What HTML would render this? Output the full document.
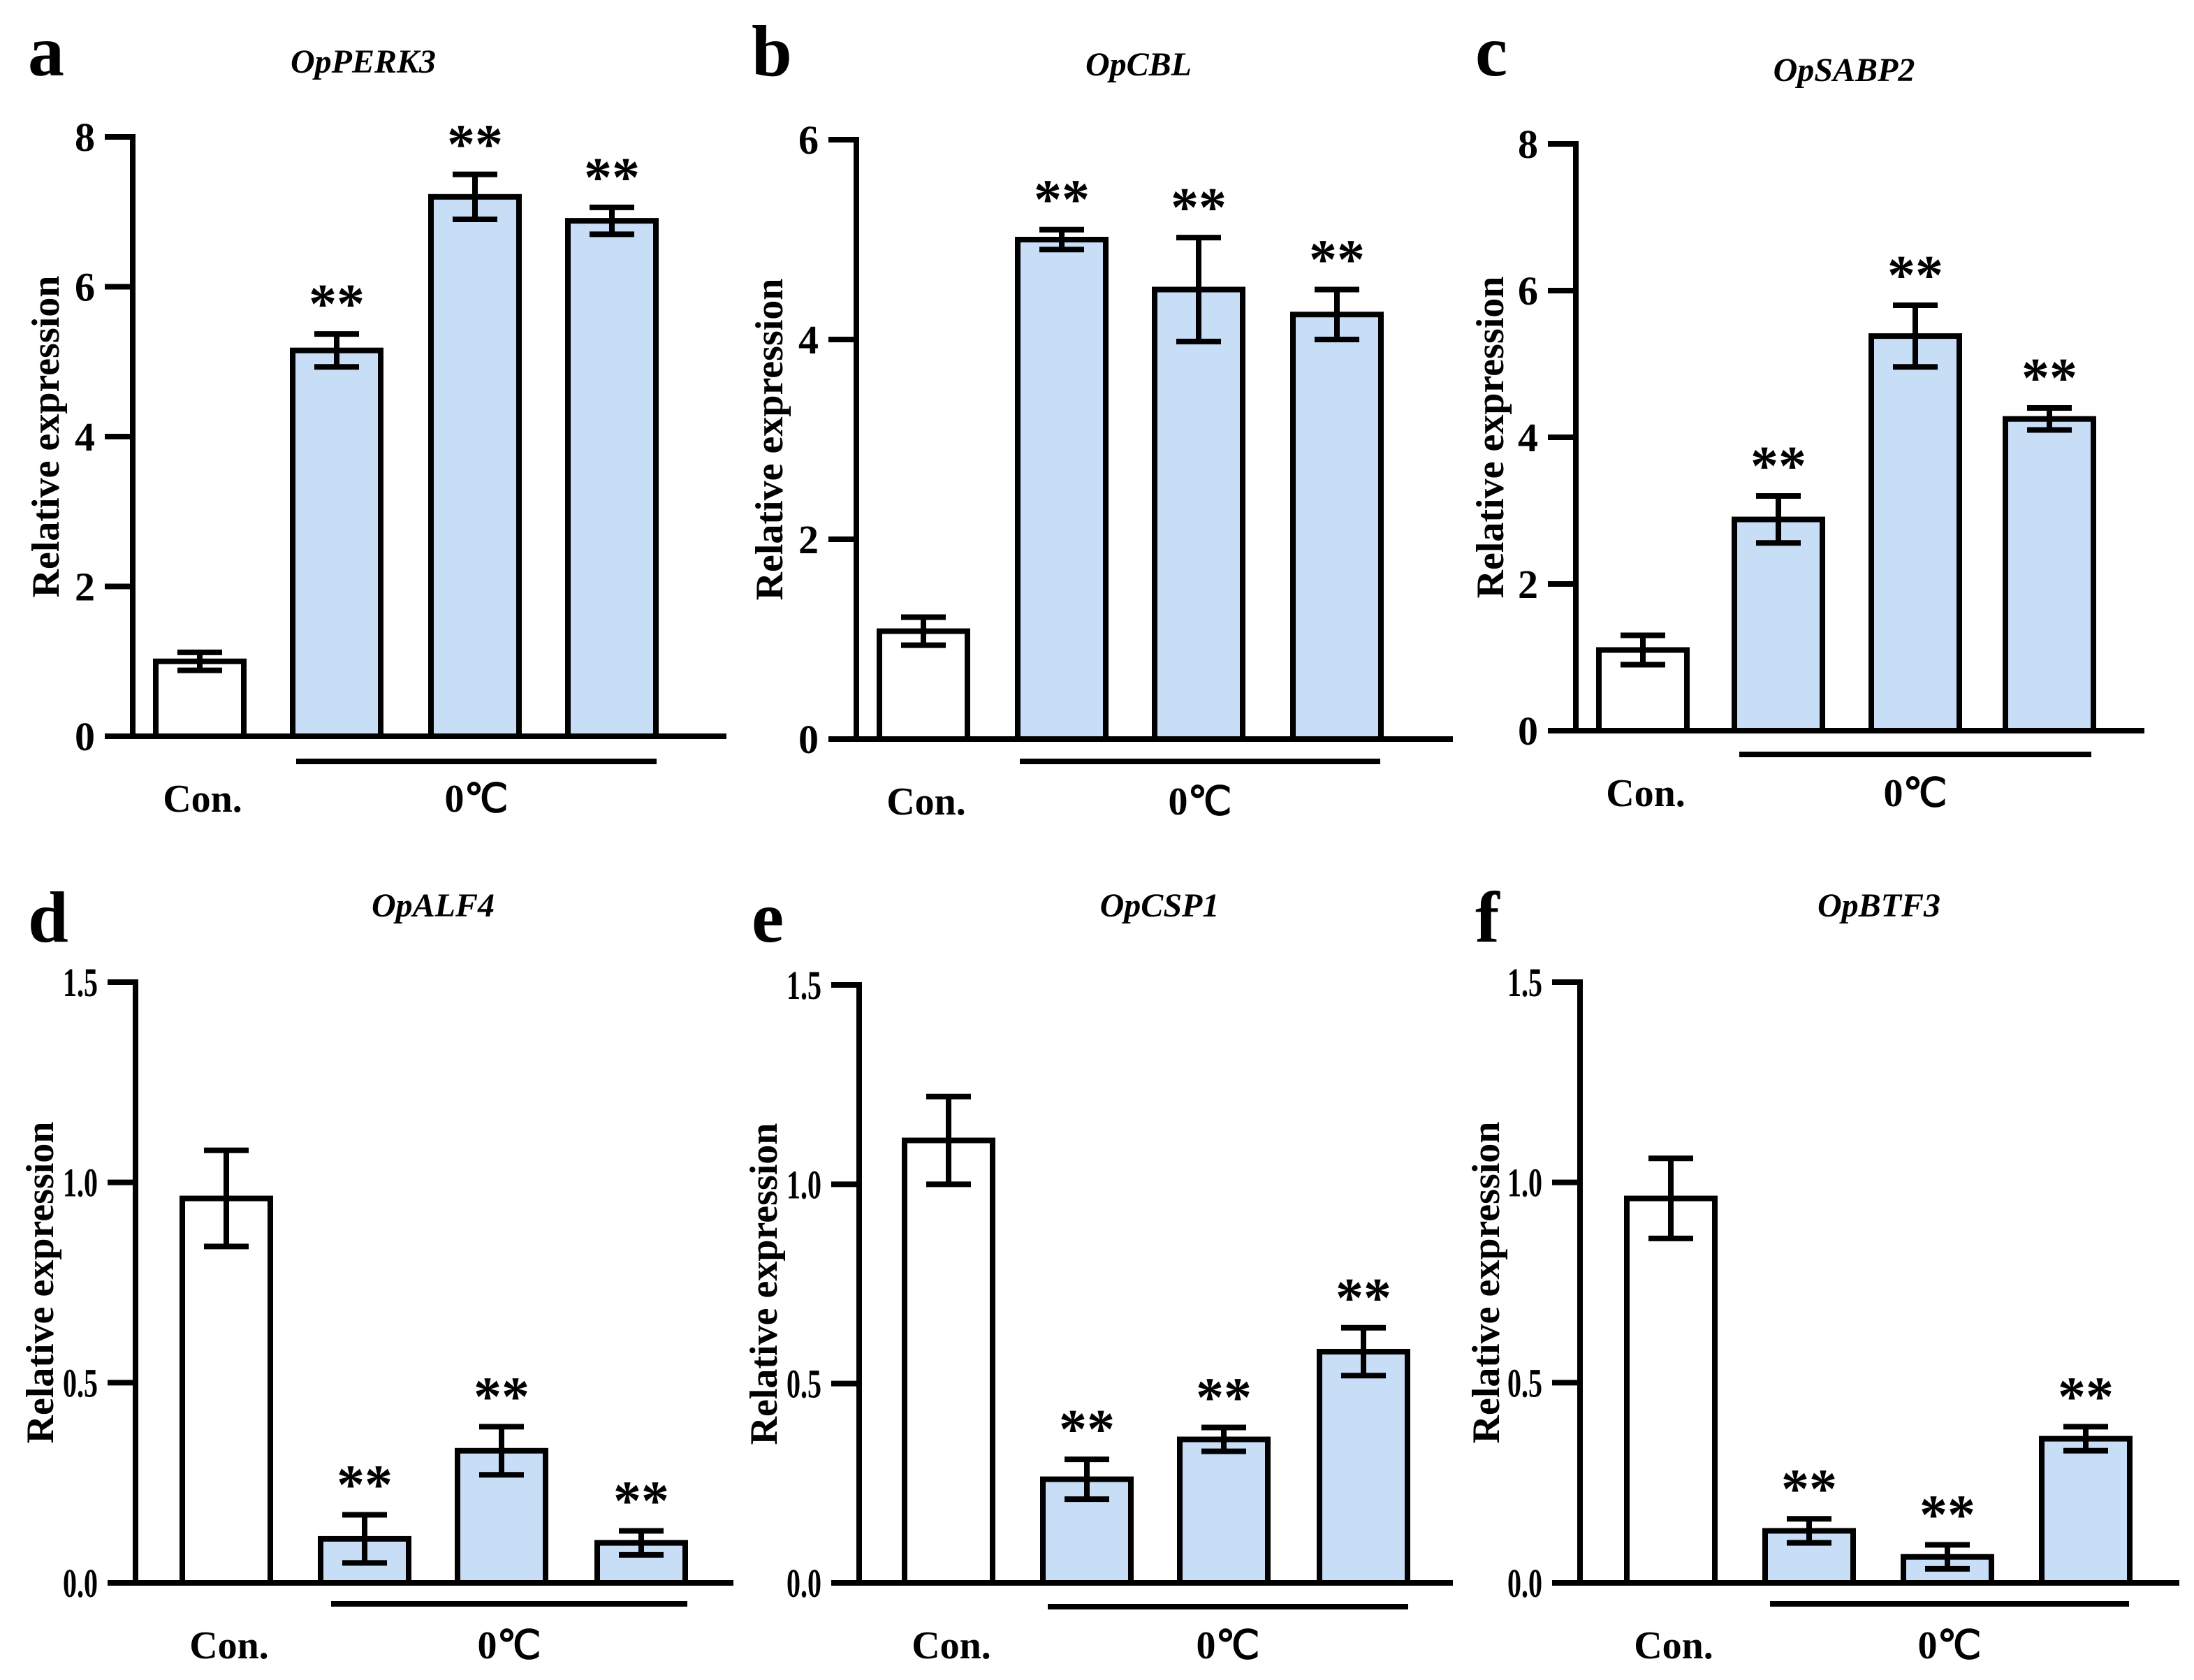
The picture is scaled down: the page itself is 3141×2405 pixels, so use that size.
<!DOCTYPE html>
<html><head><meta charset="utf-8"><style>
html,body{margin:0;padding:0;background:#fff}
svg{display:block}
text{font-family:"Liberation Serif",serif;font-weight:bold;fill:#000}
</style></head><body>
<svg id="fig" width="3141" height="2405" viewBox="0 0 1570.5 1202.5" xmlns="http://www.w3.org/2000/svg"></svg>
<script>
const panelLetters = ["a","b","c","d","e","f"];
const panelTitles = ["OpPERK3","OpCBL","OpSABP2","OpALF4","OpCSP1","OpBTF3"];
const categories = ["Con.","0℃","0℃","0℃"];
const meansA = [1.0, 5.15, 7.2, 6.88];
const errsA  = [0.12, 0.22, 0.3, 0.18];
const meansB = [1.08, 5.0, 4.5, 4.25];
const errsB  = [0.14, 0.1, 0.52, 0.25];
const meansC = [1.1, 2.88, 5.38, 4.25];
const errsC  = [0.2, 0.32, 0.42, 0.15];
const meansD = [0.96, 0.11, 0.33, 0.10];
const errsD  = [0.12, 0.06, 0.06, 0.03];
const meansE = [1.11, 0.26, 0.36, 0.58];
const errsE  = [0.11, 0.05, 0.03, 0.06];
const meansF = [0.96, 0.13, 0.065, 0.36];
const errsF  = [0.1, 0.03, 0.03, 0.03];
const ticksTop = [[0,2,4,6,8],[0,2,4,6],[0,2,4,6,8]];
const ticksBottom = ["0.0","0.5","1.0","1.5"];
const signif = [["","**","**","**"],["","**","**","**"],["","**","**","**"],["","**","**","**"],["","**","**","**"],["","**","**","**"]];

const layout = [
 {ax:95, y0:527, yt:98, ymax:8, x1:520, c:[143,241,340,438], br:[212,470], by:545, lab:572, tx:260, ty:52, lx:20, ly:54, yx:32},
 {ax:613, y0:529, yt:100, ymax:6, x1:1040, c:[661,760,858,957], br:[730,988], by:545, lab:574, tx:815, ty:54, lx:538, ly:54, yx:550},
 {ax:1128, y0:523, yt:103, ymax:8, x1:1535, c:[1176,1273,1371,1467], br:[1245,1497], by:540, lab:568, tx:1320, ty:58, lx:1056, ly:54, yx:1066},
 {ax:97, y0:1133, yt:703, ymax:1.5, x1:525, c:[162,261,359,459], br:[237,492], by:1148, lab:1178, tx:310, ty:656, lx:20, ly:674, yx:28},
 {ax:615, y0:1133, yt:705, ymax:1.5, x1:1040, c:[679,778,876,976], br:[750,1008], by:1150, lab:1178, tx:830, ty:656, lx:538, ly:674, yx:546},
 {ax:1131, y0:1133, yt:703, ymax:1.5, x1:1560, c:[1196,1295,1394,1493], br:[1267,1524], by:1148, lab:1178, tx:1345, ty:656, lx:1056, ly:674, yx:1063}
];
const allMeans=[meansA,meansB,meansC,meansD,meansE,meansF];
const allErrs=[errsA,errsB,errsC,errsD,errsE,errsF];
const svg=document.getElementById('fig');
const NS="http://www.w3.org/2000/svg";
function mk(tag,attrs,parent){const e=document.createElementNS(NS,tag);for(const k in attrs)e.setAttribute(k,attrs[k]);(parent||svg).appendChild(e);return e;}

layout.forEach((L,p)=>{
  const g=mk('g',{});
  
  
  const y=v=>L.y0-(v/L.ymax)*(L.y0-L.yt);
  const lt=mk('text',{x:L.lx,y:L.ly,'font-size':52},g);lt.textContent=panelLetters[p];
  
  
  const tt=mk('text',{x:L.tx,y:L.ty,'font-size':24,'font-style':'italic','text-anchor':'middle'},g);tt.textContent=panelTitles[p];
  
  
  const yl=mk('text',{x:0,y:0,'font-size':28,'text-anchor':'middle',transform:`translate(${L.yx+10},${(L.y0+L.yt)/2}) rotate(-90)`},g);yl.textContent="Relative expression";
  
  
  const means=allMeans[p], errs=allErrs[p];
  means.forEach((m,i)=>{
    const cx=L.c[i], w=63;
    const r=mk('rect',{x:cx-w/2,y:y(m),width:w,height:L.y0-y(m),fill:i==0?'#fff':'#c8ddf6',stroke:'#000','stroke-width':4},g);
    
    
    const e=errs[i];
    const eb=mk('path',{d:`M${cx},${y(m+e)}V${y(m-e)}M${cx-16},${y(m+e)}H${cx+16}M${cx-16},${y(m-e)}H${cx+16}`,stroke:'#000','stroke-width':4,fill:'none'},g);
    
    
    if(signif[p][i]){
      const s=mk('text',{x:cx,y:y(m+e)-8,'font-size':40,'text-anchor':'middle'},g);s.textContent=signif[p][i];
      
      
    }
  });
  const ticks = p<3 ? ticksTop[p] : ticksBottom;
  ticks.forEach(t=>{
    const v=parseFloat(t);
    mk('line',{x1:L.ax-20,x2:L.ax,y1:y(v),y2:y(v),stroke:'#000','stroke-width':4},g);
    const attrs={x:L.ax-27,y:y(v)+10,'font-size':29,'text-anchor':'end'};
    if(p>=3){attrs.textLength=25;attrs.lengthAdjust='spacingAndGlyphs';attrs.x=L.ax-52;attrs['text-anchor']='start';}
    const tl=mk('text',attrs,g);tl.textContent=t;
    
    
  });
  const axes=mk('path',{d:`M${L.ax},${L.yt-2}V${L.y0}H${L.x1}`,stroke:'#000','stroke-width':4,fill:'none'},g);
  
  
  const br=mk('line',{x1:L.br[0],x2:L.br[1],y1:L.by,y2:L.by,stroke:'#000','stroke-width':4},g);
  
  
  const c1=mk('text',{x:L.c[0]+2,y:L.lab+9,'font-size':28,'text-anchor':'middle'},g);c1.textContent=categories[0];
  
  
  const c2=mk('text',{x:(L.br[0]+L.br[1])/2,y:L.lab+9,'font-size':28,'text-anchor':'middle'},g);c2.textContent=categories[1];
  
  
});
</script>
</body></html>
